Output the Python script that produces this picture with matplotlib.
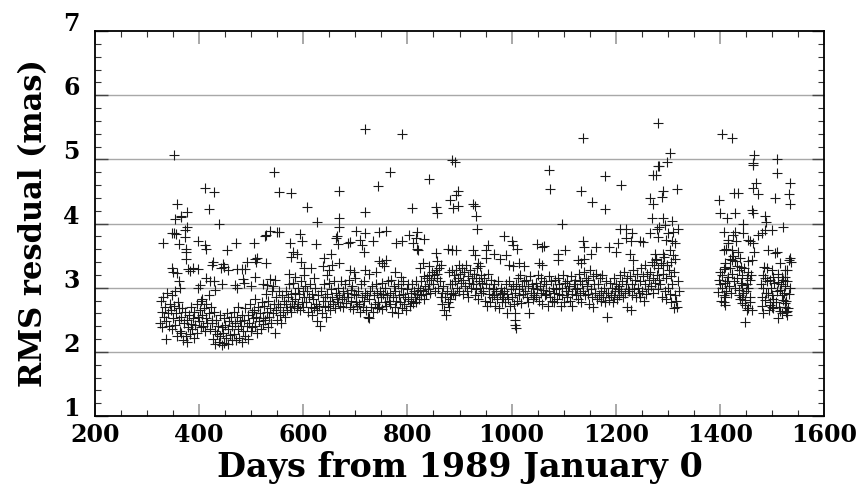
import numpy as np
import matplotlib
matplotlib.use('Agg')
import matplotlib.pyplot as plt
from matplotlib.ticker import MultipleLocator

# core band, days 325-605
day_a = [325, 326, 328, 329, 331, 332, 334, 336, 337, 339, 341, 342, 344,
         345, 347, 348, 350, 351, 353, 354, 356, 358, 359, 361, 362, 364,
         365, 366, 368, 369, 371, 373, 374, 376, 377, 379, 381, 382, 384,
         385, 387, 388, 390, 391, 393, 395, 396, 398, 399, 401, 403, 404,
         405, 406, 408, 410, 411, 413, 414, 416, 418, 419, 421, 422, 424,
         425, 427, 428, 430, 431, 433, 435, 436, 438, 440, 441, 443, 444,
         445, 447, 448, 450, 452, 453, 455, 456, 458, 460, 461, 463, 464,
         466, 467, 469, 470, 472, 474, 475, 477, 479, 480, 482, 483, 485,
         486, 488, 489, 491, 493, 494, 496, 497, 499, 501, 502, 504,
         505, 507, 508, 510, 512, 513, 515, 517, 518, 520, 522, 523,
         525, 527, 528, 530, 532, 533, 535, 537, 538, 540, 542, 543, 545,
         547, 548, 550, 551, 553, 555, 556, 558, 560, 561, 563, 564,
         566, 567, 569, 571, 572, 574, 576, 577, 579, 581, 582, 584,
         585, 587, 589, 590, 592, 594, 595, 597, 599, 600, 602, 604]
rms_a = [2.45, 2.80, 2.62, 2.38, 2.85, 2.55, 2.70, 2.20, 2.48, 2.92, 2.60, 2.40, 2.75,
         2.65, 2.35, 2.88, 2.52, 2.72, 2.42, 2.95, 2.60, 2.25, 2.78, 2.50, 2.68, 2.32,
         2.55, 2.30, 2.68, 2.18, 2.45, 2.62, 2.25, 2.50, 2.15, 2.38, 2.58, 2.28, 2.44,
         2.70, 2.35, 2.52, 2.22, 2.62, 2.42, 2.75, 2.30, 2.55, 2.48, 2.65, 2.38, 2.80,
         2.58, 2.82, 2.40, 2.68, 2.32, 2.75, 2.52, 2.45, 2.88, 2.60, 2.36, 2.70, 2.50,
         2.45, 2.20, 2.62, 2.32, 2.12, 2.50, 2.28, 2.40, 2.15, 2.58, 2.25, 2.10, 2.38,
         2.30, 2.52, 2.14, 2.42, 2.22, 2.60, 2.35, 2.12, 2.48, 2.26, 2.55, 2.18, 2.40,
         2.62, 2.28, 2.45, 2.18, 2.55, 2.35, 2.70, 2.22, 2.48, 2.40, 2.15, 2.58, 2.32,
         2.50, 2.25, 2.68, 2.40, 2.58, 2.20, 2.45, 2.75, 2.32, 2.62, 2.38, 2.52,
         2.65, 2.40, 2.82, 2.55, 2.30, 2.70, 2.48, 2.60, 2.35, 2.78, 2.52, 2.44,
         2.72, 2.50, 2.90, 2.62, 2.38, 2.80, 2.55, 2.68, 2.45, 2.95, 2.60, 2.75, 2.30,
         2.65, 2.85, 2.50, 2.75, 2.95, 2.58, 2.70, 2.45, 2.88, 2.62, 2.80, 2.55,
         2.75, 2.95, 2.65, 2.85, 3.05, 2.70, 2.90, 2.62, 2.80, 3.08, 2.72, 2.92,
         2.82, 2.68, 3.00, 2.75, 2.90, 2.65, 3.10, 2.78, 2.95, 2.70, 2.86, 3.02]

# core band, days 605-905
day_b = [606, 607, 609, 611, 612, 614, 616, 617, 619, 621, 622, 624,
         626, 627, 629, 631, 632, 634, 636, 637, 639, 641, 642, 644,
         646, 647, 649, 651, 652, 654, 656, 657, 659, 661, 662, 664,
         666, 667, 669, 671, 672, 674, 676, 677, 679, 681, 682, 684,
         686, 687, 689, 691, 692, 694, 696, 697, 699, 701, 702, 704,
         706, 707, 709, 711, 712, 714, 716, 717, 719, 721, 722, 724,
         726, 727, 729, 731, 732, 734, 736, 737, 739, 741, 742, 744,
         746, 747, 749, 751, 752, 754, 756, 757, 759, 761, 762, 764,
         766, 767, 769, 771, 772, 774, 776, 777, 779, 781, 782, 784,
         786, 787, 789, 791, 792, 794, 796, 797, 799, 801, 802, 804,
         806, 807, 809, 811, 812, 814, 816, 817, 819, 821, 822, 824,
         826, 827, 829, 831, 832, 834, 836, 837, 839, 841, 842, 844,
         846, 847, 849, 851, 852, 854, 856, 857, 859, 861, 862, 864,
         866, 867, 869, 871, 872, 874, 876, 877, 879, 881, 882, 884,
         886, 887, 889, 891, 892, 894, 896, 897, 899, 901, 902, 904]
rms_b = [2.78, 2.95, 2.62, 2.85, 3.05, 2.70, 2.90, 2.58, 2.82, 2.68, 3.00, 2.75,
         2.65, 2.48, 2.88, 2.72, 2.40, 2.95, 2.60, 2.80, 3.05, 2.70, 2.85, 2.55,
         2.90, 2.72, 3.08, 2.80, 2.65, 2.98, 2.85, 2.75, 3.10, 2.68, 2.92, 2.82,
         2.78, 3.00, 2.88, 2.72, 3.10, 2.82, 2.95, 2.70, 2.86, 3.05, 2.76, 2.92,
         2.85, 3.12, 2.70, 2.96, 2.80, 3.02, 2.66, 2.90, 3.15, 2.78, 2.88, 2.72,
         2.95, 2.75, 2.62, 3.05, 2.85, 2.70, 3.10, 2.80, 2.92, 2.65, 2.88, 2.55,
         2.82, 2.53, 2.95, 2.70, 3.02, 2.62, 2.88, 2.75, 3.05, 2.68, 2.92, 2.78,
         2.70, 2.95, 2.85, 3.08, 2.66, 2.90, 2.78, 3.00, 2.72, 2.88, 3.10, 2.80,
         2.92, 2.75, 3.12, 2.62, 2.85, 3.02, 2.70, 2.95, 2.80, 2.60, 3.05, 2.88,
         2.78, 3.00, 2.68, 2.90, 3.10, 2.75, 2.85, 2.65, 2.98, 2.82, 3.05, 2.72,
         2.92, 2.80, 3.05, 2.76, 2.95, 2.85, 3.10, 2.78, 2.90, 3.00, 2.82, 2.96,
         2.88, 3.10, 2.95, 3.18, 2.82, 3.02, 2.90, 3.15, 2.98, 3.20, 3.05, 2.92,
         3.12, 3.25, 3.05, 3.20, 2.95, 3.28, 3.15, 3.22, 3.00, 3.30, 3.10, 2.85,
         2.92, 2.75, 3.02, 2.65, 2.85, 2.57, 2.95, 2.78, 2.70, 3.05, 2.82, 2.90,
         3.05, 2.92, 3.20, 3.10, 2.88, 3.28, 3.00, 3.15, 2.95, 3.22, 3.08, 3.30]

# core band, days 905-1322
day_c = [906, 907, 909, 911, 912, 914, 916, 917, 919, 921, 922, 924,
         926, 927, 929, 931, 932, 934, 936, 937, 939, 941, 942, 944,
         946, 947, 949, 951, 952, 954, 956, 957, 959, 961, 962, 964,
         966, 967, 969, 971, 972, 974, 976, 977, 979, 981, 982, 984,
         986, 987, 989, 991, 992, 994, 996, 997, 999, 1001, 1002, 1004,
         1006, 1009, 1010, 1012, 1014, 1015, 1017, 1019, 1020, 1022, 1024,
         1026, 1027, 1029, 1031, 1032, 1034, 1036, 1037, 1039, 1041, 1042, 1044,
         1046, 1047, 1049, 1051, 1052, 1054, 1056, 1057, 1059, 1061, 1062, 1064,
         1066, 1067, 1069, 1071, 1072, 1074, 1076, 1077, 1079, 1081, 1082, 1084,
         1086, 1087, 1089, 1091, 1092, 1094, 1096, 1097, 1099, 1101, 1102, 1104,
         1106, 1107, 1109, 1111, 1112, 1114, 1116, 1117, 1119, 1121, 1122, 1124,
         1126, 1127, 1129, 1131, 1132, 1134, 1136, 1137, 1139, 1141, 1142, 1144,
         1146, 1147, 1149, 1151, 1152, 1154, 1156, 1157, 1159, 1161, 1162, 1164,
         1166, 1167, 1169, 1171, 1172, 1174, 1176, 1177, 1179, 1181, 1182, 1184,
         1186, 1187, 1189, 1191, 1192, 1194, 1196, 1197, 1199, 1201, 1202, 1204,
         1206, 1207, 1209, 1211, 1212, 1214, 1216, 1217, 1219, 1221, 1222, 1224,
         1226, 1227, 1229, 1231, 1232, 1234, 1236, 1237, 1239, 1241, 1242, 1244,
         1246, 1247, 1249, 1251, 1252, 1254, 1256, 1257, 1259, 1261, 1262, 1264,
         1266, 1267, 1269, 1271, 1272, 1274, 1276, 1277, 1279, 1281, 1282, 1284,
         1286, 1287, 1289, 1291, 1292, 1294, 1296, 1297, 1299, 1301, 1302, 1304,
         1306, 1307, 1309, 1311, 1312, 1314, 1316, 1317, 1319, 1321]
rms_c = [3.12, 2.90, 3.25, 3.02, 3.35, 2.95, 3.18, 2.86, 3.08, 3.28, 3.00, 3.15,
         3.05, 3.22, 2.88, 3.15, 2.98, 3.30, 2.82, 3.10, 3.00, 3.20, 2.92, 3.08,
         2.95, 3.15, 2.80, 3.05, 2.72, 3.22, 2.90, 3.00, 2.78, 3.12, 2.85, 2.98,
         2.88, 3.05, 2.72, 2.95, 2.82, 3.10, 2.68, 2.90, 3.00, 2.78, 2.92, 2.85,
         2.95, 2.78, 3.05, 2.60, 2.90, 2.82, 3.10, 2.72, 2.98, 2.85, 3.02, 2.75,
         2.92, 3.05, 2.80, 3.15, 2.88, 2.98, 3.20, 2.76, 3.02, 2.90, 3.10,
         2.95, 3.12, 2.85, 3.02, 2.78, 2.60, 3.18, 2.92, 3.05, 2.82, 3.00, 2.88,
         3.08, 2.85, 2.98, 3.20, 2.80, 3.02, 2.92, 3.15, 2.75, 2.96, 3.10, 2.88,
         2.90, 3.05, 2.72, 3.18, 2.95, 2.85, 3.10, 2.80, 3.00, 2.92, 2.78, 3.12,
         2.98, 2.82, 3.15, 2.90, 3.05, 2.72, 3.00, 2.88, 3.20, 2.78, 3.08, 2.95,
         2.85, 3.10, 2.95, 3.02, 2.80, 3.18, 2.90, 2.72, 3.05, 2.98, 3.12, 2.88,
         3.00, 2.82, 3.22, 2.92, 3.10, 2.78, 3.05, 2.95, 3.25, 2.88, 3.15, 3.02,
         2.90, 3.12, 2.75, 3.28, 2.98, 2.85, 3.18, 2.70, 3.05, 2.92, 3.22, 2.82,
         3.05, 2.88, 3.15, 2.80, 2.95, 3.20, 2.85, 3.00, 2.78, 3.10, 2.92, 2.55,
         2.92, 2.81, 3.08, 2.88, 3.00, 2.78, 3.15, 2.85, 2.95, 3.05, 2.82, 2.98,
         3.02, 2.88, 3.20, 2.95, 3.10, 2.85, 3.25, 2.92, 3.05, 2.70, 3.15, 2.98,
         2.95, 3.18, 2.65, 3.05, 2.88, 3.28, 2.98, 3.12, 2.85, 3.22, 3.00, 2.92,
         3.10, 2.85, 3.30, 2.95, 3.18, 2.80, 3.05, 3.35, 2.90, 3.22, 2.98, 3.12,
         3.25, 3.02, 3.40, 3.15, 2.92, 3.35, 3.08, 3.45, 3.20, 2.98, 3.30, 3.12,
         3.05, 3.38, 2.85, 3.22, 3.48, 2.95, 3.15, 2.82, 3.35, 3.00, 3.28, 2.90,
         3.18, 2.78, 3.05, 2.68, 3.25, 2.88, 2.80, 2.70, 3.10, 2.95]

# days 1395-1540 (after the gap)
day_d = [1399, 1428, 1434, 1469, 1464, 1474, 1506, 1535, 1533, 1535,
         1400, 1413, 1430, 1461, 1463, 1487, 1488, 1522, 1445,
         1407, 1429, 1426, 1445, 1416, 1431, 1416, 1411,
         1455, 1458, 1474, 1480, 1487, 1500,
         1407, 1423, 1464, 1466, 1493, 1506, 1509, 1535, 1532,
         1423, 1429, 1432, 1439, 1441, 1455, 1461, 1490, 1500, 1516, 1525,
         1400, 1407, 1410, 1420, 1416, 1436, 1442, 1452, 1455, 1458,
         1483, 1487, 1496, 1503, 1512, 1519, 1528, 1525,
         1410, 1405, 1397, 1407, 1410, 1442, 1436, 1445, 1448, 1439, 1455,
         1483, 1480, 1487, 1493, 1500, 1496, 1503,
         1516, 1519, 1522, 1525, 1528, 1516, 1512, 1528, 1525,
         1410, 1407, 1442, 1452, 1455, 1448, 1483, 1503, 1496, 1448,
         1405, 1424, 1466, 1464, 1463, 1509, 1509,
         1461, 1458, 1527,
         1398, 1401, 1403, 1404, 1409, 1412, 1414, 1418, 1419, 1421, 1424, 1425,
         1427, 1430, 1433, 1435, 1437, 1440, 1443, 1446, 1450, 1453, 1457, 1460,
         1479, 1481, 1485, 1489, 1491, 1494, 1498, 1501, 1504, 1507, 1510, 1511,
         1514, 1517, 1520, 1521, 1523, 1526, 1527, 1529, 1530, 1532, 1534, 1536]
rms_d = [4.37, 4.47, 4.47, 4.63, 4.56, 4.46, 4.39, 4.63, 4.46, 4.31,
         4.16, 4.08, 4.17, 4.21, 4.17, 4.12, 4.03, 3.94, 3.99,
         3.86, 3.87, 3.82, 3.85, 3.74, 3.73, 3.69, 3.60,
         3.75, 3.72, 3.82, 3.85, 3.90, 3.90,
         3.59, 3.58, 3.69, 3.56, 3.59, 3.54, 3.56, 3.46, 3.43,
         3.43, 3.41, 3.33, 3.47, 3.32, 3.41, 3.43, 3.30, 3.28, 3.38, 3.27,
         3.25, 3.29, 3.32, 3.30, 3.17, 3.28, 3.20, 3.15, 3.25, 3.12,
         3.20, 3.15, 3.12, 3.17, 3.09, 3.17, 3.28, 3.17,
         3.07, 2.99, 2.94, 2.89, 2.86, 3.04, 2.96, 2.91, 2.81, 2.83, 2.99,
         2.99, 2.86, 2.81, 2.91, 2.70, 2.78, 2.83,
         2.96, 2.89, 2.81, 2.70, 2.63, 2.63, 2.52, 2.57, 2.76,
         2.73, 2.78, 2.76, 2.65, 2.68, 2.73, 2.60, 2.68, 2.73, 2.47,
         5.39, 5.34, 5.07, 4.94, 4.91, 5.01, 4.78,
         2.65, 2.78, 2.62,
         3.12, 3.05, 2.80, 3.20, 3.38, 2.95, 3.10, 3.02, 3.45, 2.92, 3.22, 3.50,
         3.10, 3.00, 3.15, 3.55, 2.88, 3.08, 2.85, 3.30, 2.95, 3.05, 2.85, 3.20,
         3.05, 2.72, 3.32, 2.92, 3.10, 2.65, 3.00, 2.88, 3.08, 2.78, 2.95, 3.22,
         2.70, 3.05, 2.60, 3.12, 2.92, 3.02, 2.80, 3.10, 2.68, 2.90, 3.00, 3.40]

# scattered points above the band
day_out = [330, 347, 350, 352, 348, 352, 354, 356, 357, 358, 361, 362, 364, 365, 366,
           373, 373, 374, 375, 375, 376, 376, 379, 382, 388, 397, 398, 398, 402,
           411, 411, 413, 413, 418, 420, 425, 426, 429, 429, 430, 439, 442, 443,
           445, 447, 453, 455, 468, 470, 472, 473, 482, 485, 487, 489, 491, 499,
           505, 507, 508, 510, 512, 523, 527, 529, 529, 530, 537, 537, 541, 543,
           546, 550, 553, 553, 572, 575, 577, 577, 580, 585, 587, 593, 596, 598,
           601, 601,
           607, 614, 620, 625, 626, 638, 639, 646, 649, 654, 656, 662, 665, 666,
           668, 668, 669, 669, 686, 689, 690, 697, 702, 708, 713, 717, 719, 719,
           719, 719, 727, 733, 739, 744, 745, 745, 752, 755, 758, 758, 767, 776,
           779, 787, 789, 790, 803, 809, 811, 816, 818, 818, 821, 824, 829, 831,
           841, 842, 854, 854, 857, 857, 864, 877, 880, 882, 885, 886, 886, 887,
           891, 893, 893, 897, 898, 899,
           925, 926, 930, 930, 932, 933, 935, 940, 951, 951, 954, 967, 977, 986,
           989, 996, 1001, 1003, 1003, 1006, 1007, 1007, 1008, 1010, 1015, 1023,
           1049, 1053, 1058, 1058, 1062, 1072, 1074, 1089, 1089, 1096, 1103,
           1127, 1133, 1133, 1137, 1138, 1140, 1140, 1153, 1154, 1163, 1179,
           1179, 1188, 1201, 1204, 1208, 1210, 1220, 1220, 1227, 1230, 1232,
           1233, 1246, 1252, 1265, 1266, 1269, 1271, 1272, 1275, 1277, 1278,
           1279, 1281, 1281, 1282, 1284, 1284, 1288, 1290, 1290, 1291, 1291,
           1294, 1296, 1298, 1300, 1304, 1304, 1307, 1309, 1309, 1310, 1310,
           1313, 1313, 1317, 1320]
rms_out = [3.69, 3.30, 3.24, 3.85, 3.85, 5.07, 4.07, 3.84, 3.23, 4.30, 3.68, 3.10, 3.00, 4.10, 4.11,
           3.90, 3.79, 3.60, 3.55, 3.45, 4.18, 3.95, 3.29, 3.26, 3.30, 3.29, 3.72, 3.00, 3.04,
           3.66, 4.56, 3.61, 3.15, 4.23, 3.10, 3.35, 3.40, 4.49, 3.10, 2.97, 3.99, 3.30, 3.06,
           3.37, 3.32, 3.59, 3.28, 3.04, 3.69, 3.00, 3.29, 3.29, 3.14, 3.07, 3.29, 3.40, 3.03,
           3.70, 3.16, 3.45, 3.40, 3.47, 3.05, 3.81, 3.82, 3.38, 3.04, 3.89, 3.13, 3.03, 4.80,
           3.12, 3.87, 4.49, 3.87, 3.22, 3.69, 4.47, 3.48, 3.56, 3.17, 3.53, 3.84, 3.40, 3.72,
           3.30, 3.20,
           4.25, 3.30, 3.15, 3.68, 4.03, 3.33, 3.47, 3.20, 3.28, 3.53, 3.35, 3.78, 3.81, 3.68,
           4.09, 3.38, 4.50, 3.95, 3.69, 3.71, 3.27, 3.25, 3.89, 3.75, 3.66, 3.56, 3.85, 3.28,
           4.18, 5.48, 3.22, 3.73, 3.25, 4.58, 3.87, 3.41, 3.38, 3.33, 3.88, 3.43, 4.80, 3.25,
           3.69, 3.17, 5.39, 3.72, 3.82, 4.24, 3.69, 3.77, 3.87, 3.60, 3.58, 3.30, 3.38, 3.76,
           3.33, 4.69, 4.26, 3.54, 4.17, 3.41, 3.35, 3.61, 3.25, 4.36, 4.99, 3.59, 3.28, 4.24,
           4.96, 3.58, 4.44, 4.27, 4.50, 3.35,
           3.59, 4.30, 4.27, 3.51, 4.12, 3.92, 3.38, 3.33, 3.59, 3.46, 3.66, 3.53, 3.44, 3.81,
           3.51, 3.35, 3.72, 3.66, 3.34, 2.60, 2.50, 2.42, 2.37, 3.60, 3.38, 3.34,
           3.68, 3.38, 3.64, 3.35, 3.65, 4.83, 4.53, 3.53, 3.43, 4.00, 3.59,
           3.43, 4.50, 3.38, 3.73, 5.34, 3.64, 3.44, 3.52, 4.34, 3.64, 4.74,
           4.22, 3.64, 3.56, 3.69, 3.91, 4.60, 3.91, 3.77, 3.53, 3.72, 3.85,
           3.43, 3.72, 3.71, 3.85, 4.39, 4.08, 4.31, 4.75, 3.53, 4.75, 3.43,
           3.91, 3.79, 4.90, 5.57, 4.89, 3.95, 4.42, 4.50, 4.08, 3.53, 3.35,
           3.98, 3.75, 4.96, 3.85, 5.10, 3.59, 3.40, 3.72, 4.04, 3.87, 3.51,
           3.69, 3.44, 4.53, 3.91]

yticks = [1, 2, 3, 4, 5, 6, 7]
xticks = [200, 400, 600, 800, 1000, 1200, 1400, 1600]

days = np.array(day_a + day_b + day_c + day_d + day_out)
rms = np.array(rms_a + rms_b + rms_c + rms_d + rms_out)

plt.rcParams['font.family'] = 'DejaVu Serif'
plt.rcParams['font.weight'] = 'bold'

fig = plt.figure(figsize=(8.6, 4.87), dpi=100)
ax = fig.add_axes([95/860, 1 - 416/487, 729/860, 385/487])

for y in yticks[1:-1]:
    ax.axhline(y, color='#a8a8a8', lw=1.0, zorder=1)

ax.plot(days, rms, ls='none', marker='+', ms=7, mew=0.8, color='#1a1a1a', zorder=3)

ax.set_xlim(200, 1600)
ax.set_ylim(1, 7)
ax.set_xticks(xticks)
ax.set_yticks(yticks)
ax.xaxis.set_minor_locator(MultipleLocator(50))
ax.yaxis.set_minor_locator(MultipleLocator(0.2))
ax.tick_params(which='both', direction='in', top=True, right=True, labelsize=17)
ax.tick_params(axis='x', which='major', length=9, width=1.2, color='#999999', pad=5)
ax.tick_params(axis='y', which='major', length=9, width=1.0, color='#444444', pad=11)
ax.tick_params(which='minor', length=4.5, width=0.8, color='#333333')
for lab in ax.get_yticklabels():
    lab.set_va('baseline')
for sp in ax.spines.values():
    sp.set_linewidth(1.3)

ax.set_xlabel('Days from 1989 January 0', fontsize=24, fontweight='bold', labelpad=3)
ax.set_ylabel('RMS resdual (mas)', fontsize=22, fontweight='bold', labelpad=10)

fig.savefig('out.png', dpi=100)
